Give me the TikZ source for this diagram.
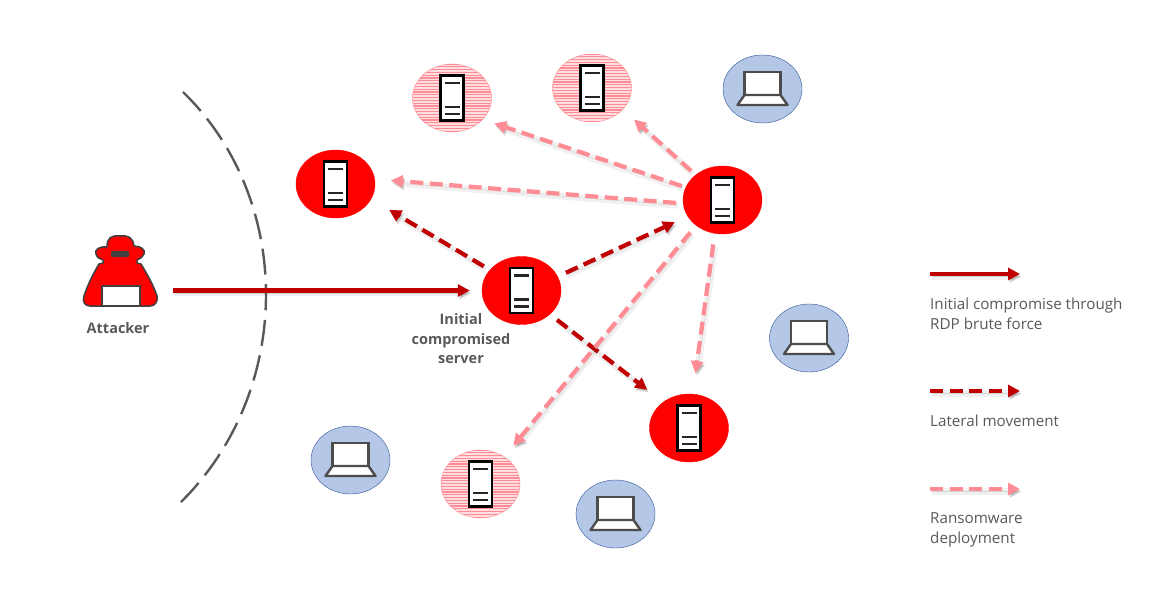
\documentclass[tikz,border=0pt]{standalone}
\usepackage{fontspec}
\setmainfont{Open Sans}
\usetikzlibrary{arrows.meta,shapes.geometric}
\definecolor{hostred}{HTML}{FF0000}
\definecolor{arrowred}{HTML}{C00000}
\definecolor{arrowpink}{HTML}{FF8B94}
\definecolor{hatchpale}{HTML}{FFDDE0}
\definecolor{laptopblue}{HTML}{B4C7E7}
\definecolor{laptopedge}{HTML}{2F5597}
\definecolor{textgray}{HTML}{595959}
\tikzset{
    host/.style={draw, ellipse, minimum width=79pt, minimum height=68pt, inner sep=0pt},
    redhost/.style={host, fill=hostred, draw=hostred},
    pinkhost/.style={host, draw=arrowpink, fill=hatchpale, path picture={
        \foreach \hy in {-34,-31.2,...,34} {
            \draw[arrowpink, line width=1.1pt] (-40,\hy) -- (40,\hy);
        }
    }},
    laptophost/.style={host, fill=laptopblue, draw=laptopedge},
    arrowbase/.style={line width=4.2pt, -{Triangle[length=12pt,width=12pt]},
        preaction={draw=black, opacity=0.06, line width=6.5pt, transform canvas={xshift=1.5pt,yshift=-2.5pt}},
        preaction={draw=black, opacity=0.12, transform canvas={xshift=1.5pt,yshift=-2.5pt}}},
    compromise/.style={arrowbase, draw=arrowred},
    lateral/.style={arrowbase, draw=arrowred, dash pattern=on 13pt off 6.5pt},
    ransom/.style={arrowbase, draw=arrowpink, dash pattern=on 13pt off 6.5pt},
    caption/.style={text=textgray, align=left, anchor=north west, inner sep=0pt,
        font=\fontsize{15.2}{20}\selectfont},
    boldcaption/.style={text=textgray, align=center, inner sep=0pt,
        font=\fontsize{14.5}{19.5}\selectfont\bfseries},
    serverpic/.pic={
        \draw[black, line width=2.8pt, fill=white] (-11.5,-22.5) rectangle (11.5,22.5);
        \draw[black!85, line width=2.2pt] (-7.5,-15) -- (7.5,-15);
        \draw[black!85, line width=2.2pt] (-7.5,9) -- (7.5,9);
        \draw[black!85, line width=2.2pt] (-7.5,16) -- (7.5,16);
    },
    laptoppic/.pic={
        \draw[black!70, line width=2.4pt, fill=white] (-18,-17) rectangle (18,6);
        \draw[black!70, line width=2.4pt, fill=white, line join=round]
            (-18,6) -- (18,6) -- (25,16) -- (-25,16) -- cycle;
    },
}
\begin{document}
\begin{tikzpicture}[x=1pt, y=-1pt]
    \useasboundingbox (0,0) rectangle (1158,589);

    \draw[textgray, line width=2.4pt, dash pattern=on 26pt off 9.75pt]
        (183,92) .. controls (294,200) and (294,390) .. (181,502);

    \node[inner sep=0pt, minimum width=74pt, minimum height=71pt] (attacker) at (120,271) {};
    \draw[black!75, line width=1.5pt, fill=hostred, line join=round]
        (107,247) .. controls (107,238) and (111,235) .. (120,236)
        .. controls (129,235) and (133,238) .. (134,246)
        .. controls (141,246) and (146,250) .. (144,254)
        .. controls (142,258) and (139,259) .. (137,260)
        -- (137,263) -- (141,264)
        .. controls (147,274) and (153,284) .. (157,296)
        .. controls (158,302) and (155,306) .. (150,306)
        -- (90,306)
        .. controls (85,306) and (82,302) .. (84,296)
        .. controls (88,284) and (93,274) .. (99,264)
        -- (103,263) -- (103,260)
        .. controls (100,259) and (97,258) .. (96,254)
        .. controls (94,250) and (99,246) .. (107,247) -- cycle;
    \fill[black!75, rounded corners=1pt] (111,251) rectangle (129,257);
    \draw[black!75, line width=1.5pt, fill=white] (102,286) rectangle (140,306);
    \node[boldcaption] (attackerlabel) at (118,328) {Attacker};

    \foreach \hostname/\px/\py in {redA/335.5/184, init/521.5/290.5, hub/722.5/200, redB/689/428} {
        \node[redhost] (\hostname) at (\px,\py) {};
        \pic at (\px,\py) {serverpic};
    }
    \foreach \hostname/\px/\py in {pinkA/452/98, pinkB/592/88, pinkC/480.5/484} {
        \node[pinkhost] (\hostname) at (\px,\py) {};
        \pic at (\px,\py) {serverpic};
    }
    \foreach \hostname/\px/\py in {laptopA/762.5/89, laptopB/809/338, laptopC/350.5/460, laptopD/615.5/514} {
        \node[laptophost] (\hostname) at (\px,\py) {};
        \pic at (\px,\py) {laptoppic};
    }
    \node[boldcaption] (initlabel) at (461,339) {Initial\\compromised\\server};

    \draw[compromise, shorten <=16pt, shorten >=12pt] (attacker.east |- init) -- (init);

    \draw[lateral, shorten <=7pt, shorten >=21pt] (init.147) -- (redA.-23);
    \draw[lateral, shorten <=9pt, shorten >=14pt] (init.21) -- (hub.205);
    \draw[lateral, shorten <=9pt, shorten >=20pt] (init.-40) -- (redB.135);

    \draw[ransom, shorten <=6pt, shorten >=15pt] (hub.137) -- (pinkB.-35);
    \draw[ransom, shorten <=4pt, shorten >=12pt] (hub.161) -- (pinkA.-35);
    \draw[ransom, shorten <=7pt, shorten >=16pt] (hub.185) -- (redA.7);
    \draw[ransom, shorten <=9pt, shorten >=14pt] (hub.224) -- (pinkC.49);
    \draw[ransom, shorten <=11pt, shorten >=21pt] (hub.257) -- (redB.84);

    \coordinate (legendAa) at (930,274);
    \coordinate (legendAb) at (1020,274);
    \coordinate (legendBa) at (930,391);
    \coordinate (legendBb) at (1020,391);
    \coordinate (legendCa) at (930,489);
    \coordinate (legendCb) at (1020,489);
    \draw[compromise] (legendAa) -- (legendAb);
    \draw[lateral] (legendBa) -- (legendBb);
    \draw[ransom] (legendCa) -- (legendCb);
    \node[caption] (legendAtext) at (930,298) {Initial compromise through\\RDP brute force};
    \node[caption] (legendBtext) at (930,415) {Lateral movement};
    \node[caption] (legendCtext) at (930,512) {Ransomware\\deployment};
\end{tikzpicture}
\end{document}
